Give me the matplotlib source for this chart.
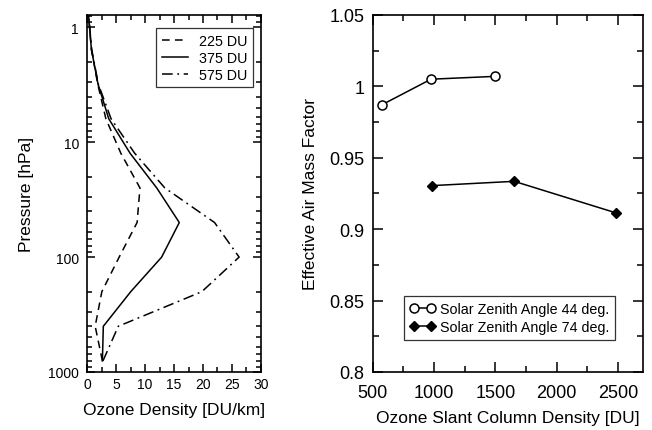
import numpy as np
import matplotlib
matplotlib.use('Agg')
import matplotlib.pyplot as plt
import matplotlib.ticker as ticker

plt.rcParams['font.family'] = ['Liberation Sans', 'DejaVu Sans']

# Left panel: ozone profiles (pressure levels in hPa, density in DU/km)
pressure = [800, 400, 200, 100, 50, 25, 12.5, 6.25, 3.125, 1.56, 0.78]
ozone_225 = [2.6, 1.35, 2.5, 5.5, 8.6, 9.1, 5.8, 3.2, 1.8, 0.7, 0.2]
ozone_375 = [2.6, 2.76, 7.5, 12.85, 15.9, 12.0, 7.4, 3.7, 1.85, 0.7, 0.2]
ozone_575 = [2.7, 5.35, 19.8, 26.25, 22.0, 13.4, 8.2, 4.1, 1.9, 0.75, 0.2]

# Right panel: air mass factor vs slant column
scd_44 = [573, 975, 1498]
amf_44 = [0.987, 1.005, 1.007]
scd_74 = [985, 1653, 2479]
amf_74 = [0.9305, 0.9335, 0.9115]

fig = plt.figure(figsize=(6.52, 4.31), dpi=100)
ax1 = fig.add_axes([0.134, 0.1346, 0.266, 0.8284])
ax2 = fig.add_axes([0.5716, 0.1346, 0.4141, 0.8284])

lw = 1.1
ax1.plot(ozone_225, pressure, color='black', lw=lw, dashes=(5, 3.5), label='225 DU')
ax1.plot(ozone_375, pressure, color='black', lw=lw, label='375 DU')
ax1.plot(ozone_575, pressure, color='black', lw=lw, dashes=(7, 3, 1.2, 3), label='575 DU')
ax1.set_yscale('log')
ax1.set_ylim(1000, 0.78)
ax1.set_xlim(0, 30)
ax1.xaxis.set_major_locator(ticker.MultipleLocator(5))
ax1.xaxis.set_minor_locator(ticker.MultipleLocator(2.5))
ax1.yaxis.set_major_locator(ticker.LogLocator(base=10, numticks=10))
ax1.yaxis.set_minor_locator(ticker.LogLocator(base=10, subs=np.arange(2, 10), numticks=10))
ax1.yaxis.set_major_formatter(ticker.FuncFormatter(lambda v, pos: f'{int(round(v))}'))
ax1.yaxis.set_minor_formatter(ticker.NullFormatter())
ax1.tick_params(which='both', direction='in', top=True, right=True, labelsize=10, width=1.1)
ax1.tick_params(which='major', length=6)
ax1.tick_params(axis='y', which='major', pad=6)
ax1.tick_params(which='minor', length=3.5)
ax1.set_xlabel('Ozone Density [DU/km]', fontsize=12.5, labelpad=8)
ax1.set_ylabel('Pressure [hPa]', fontsize=12.5, labelpad=10)
leg1 = ax1.legend(loc='upper right', bbox_to_anchor=(0.956, 0.963), borderaxespad=0,
                  fancybox=False, edgecolor='black', fontsize=10.3, handlelength=1.8,
                  labelspacing=0.2, borderpad=0.4, handletextpad=0.8)
leg1.get_frame().set_linewidth(0.9)

ax2.plot(scd_44, amf_44, color='black', lw=lw, marker='o', markersize=6.5,
         markerfacecolor='white', markeredgecolor='black', markeredgewidth=1.1,
         label='Solar Zenith Angle 44 deg.')
ax2.plot(scd_74, amf_74, color='black', lw=lw, marker='D', markersize=5.5,
         markerfacecolor='black', markeredgecolor='black',
         label='Solar Zenith Angle 74 deg.')
ax2.set_xlim(500, 2700)
ax2.set_ylim(0.8, 1.05)
ax2.xaxis.set_major_locator(ticker.MultipleLocator(500))
ax2.xaxis.set_minor_locator(ticker.MultipleLocator(250))
ax2.yaxis.set_major_locator(ticker.MultipleLocator(0.05))
ax2.yaxis.set_minor_locator(ticker.MultipleLocator(0.025))
ax2.yaxis.set_major_formatter(ticker.FuncFormatter(lambda v, pos: f'{v:g}'))
ax2.tick_params(which='both', direction='in', top=True, right=True, labelsize=13, width=1.1)
ax2.tick_params(which='major', length=7, pad=6)
ax2.tick_params(axis='x', which='major', pad=9)
ax2.tick_params(which='minor', length=4.5)
ax2.set_xlabel('Ozone Slant Column Density [DU]', fontsize=12.5, labelpad=6)
ax2.set_ylabel('Effective Air Mass Factor', fontsize=12.5, labelpad=8)
leg2 = ax2.legend(loc='lower left', bbox_to_anchor=(0.116, 0.089), borderaxespad=0,
                  fancybox=False, edgecolor='black', fontsize=10.3, handlelength=1.8,
                  numpoints=2, labelspacing=0.3, borderpad=0.4, handletextpad=0.3)
leg2.get_frame().set_linewidth(0.9)

for ax in (ax1, ax2):
    for s in ax.spines.values():
        s.set_linewidth(1.2)

fig.savefig('out.png', dpi=100)
